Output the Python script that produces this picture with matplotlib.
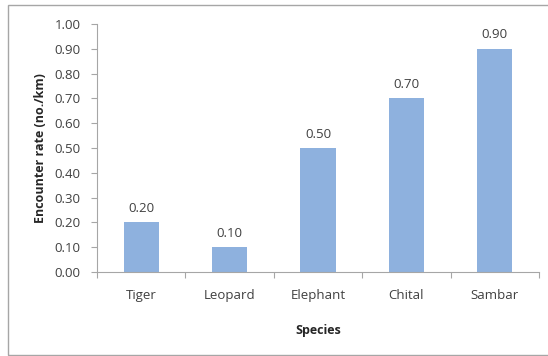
import matplotlib
matplotlib.use("Agg")
import matplotlib.pyplot as plt
from matplotlib.patches import Rectangle
import numpy as np

species = ["Tiger", "Leopard", "Elephant", "Chital", "Sambar"]
encounter_rate = [0.20, 0.10, 0.50, 0.70, 0.90]
y_ticks = [0.0, 0.1, 0.2, 0.3, 0.4, 0.5, 0.6, 0.7, 0.8, 0.9, 1.0]

plt.rcParams["font.family"] = ["Open Sans", "DejaVu Sans"]
plt.rcParams["hatch.color"] = "#b4cbe8"
plt.rcParams["hatch.linewidth"] = 0.6

W, H = 548, 356
fig = plt.figure(figsize=(W / 100, H / 100), dpi=100)

# outer chart frame
fig.patches.append(Rectangle((8 / W, 1 - 355 / H), 1.0, (355 - 5) / H,
                             transform=fig.transFigure, fill=False,
                             edgecolor="#a6a6a6", linewidth=1.0))

ax = fig.add_axes([97 / W, 1 - 272 / H, (539 - 97) / W, (272 - 24) / H])
x = np.arange(len(species))
ax.bar(x, encounter_rate, width=0.4, color="#8eb1de", hatch="....",
       edgecolor="#8eb1de", linewidth=0)
for xi, v in zip(x, encounter_rate):
    ax.text(xi, v + 0.03, f"{v:.2f}", ha="center", va="bottom",
            fontsize=9.5, color="#404040")

ax.set_xlim(-0.5, len(species) - 0.5)
ax.set_ylim(0, 1.0)
ax.set_yticks(y_ticks)
ax.set_yticklabels([f"{t:.2f}" for t in y_ticks])
ax.set_xticks(x)
ax.set_xticklabels(species)
ax.set_xticks(np.arange(len(species) + 1) - 0.5, minor=True)
ax.tick_params(axis="x", which="major", length=0, pad=12, labelsize=9.5,
               labelcolor="#404040")
ax.tick_params(axis="x", which="minor", length=4, color="#a6a6a6", width=0.8)
ax.tick_params(axis="y", length=4, color="#a6a6a6", width=0.8, pad=8,
               labelsize=9.5, labelcolor="#404040")

for s in ["top", "right"]:
    ax.spines[s].set_visible(False)
for s in ["left", "bottom"]:
    ax.spines[s].set_color("#a6a6a6")
    ax.spines[s].set_linewidth(0.8)

ax.set_xlabel("Species", fontsize=9, fontweight="bold", color="#262626",
              labelpad=16)
ax.set_ylabel("Encounter rate (no./km)", fontsize=9, fontweight="bold",
              color="#262626", labelpad=5)

fig.savefig("out.png", dpi=100)
